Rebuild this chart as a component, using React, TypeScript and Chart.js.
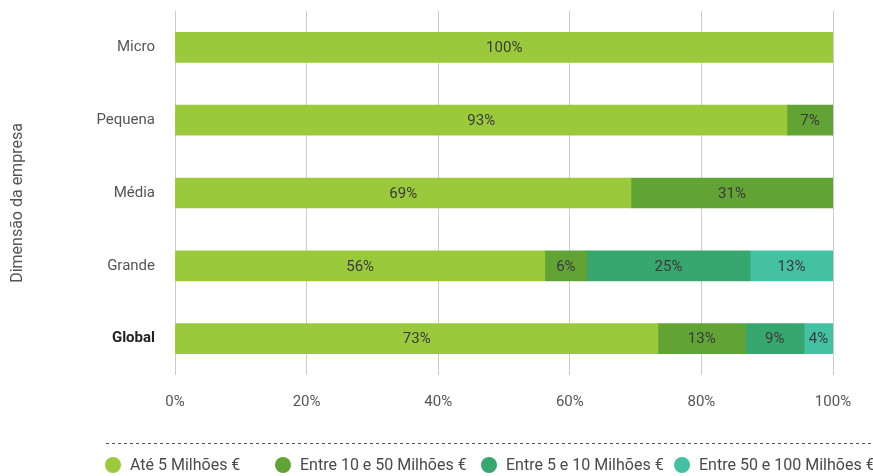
import React, { useEffect, useRef } from "react";
import { Chart, registerables } from "chart.js";

Chart.register(...registerables);

const categories = ["Micro", "Pequena", "Média", "Grande", "Global"];
const seriesLabels = [
  "Até 5 Milhões €",
  "Entre 10 e 50 Milhões €",
  "Entre 5 e 10 Milhões €",
  "Entre 50 e 100 Milhões €",
];
const ate5 = [100, 93, 69.3, 56.2, 73.4];
const entre10e50 = [0, 7, 30.7, 6.4, 13.3];
const entre5e10 = [0, 0, 0, 24.8, 8.9];
const entre50e100 = [0, 0, 0, 12.6, 4.4];
const xTicks = [0, 20, 40, 60, 80, 100];
const yTitle = "Dimensão da empresa";

const colors = ["#9ACA3C", "#62A336", "#37A66F", "#44C0A2"];
const FONT = "Roboto, 'DejaVu Sans', sans-serif";
const legendCircleX = [113, 283, 489, 682];

const barLabelPlugin = {
  id: "barLabels",
  afterDatasetsDraw(chart: any) {
    const ctx = chart.ctx;
    ctx.save();
    ctx.font = `15px ${FONT}`;
    ctx.fillStyle = "#3a3a3a";
    ctx.textAlign = "center";
    ctx.textBaseline = "middle";
    chart.data.datasets.forEach((ds: any, di: number) => {
      const meta = chart.getDatasetMeta(di);
      meta.data.forEach((bar: any, i: number) => {
        const v = ds.data[i];
        if (!v) return;
        const x0 = bar.base;
        const x1 = bar.x;
        ctx.fillText(Math.round(v) + "%", (x0 + x1) / 2, bar.y + 1);
      });
    });
    ctx.restore();
  },
};

const legendPlugin = {
  id: "customLegend",
  afterDraw(chart: any) {
    const ctx = chart.ctx;
    ctx.save();
    // y axis title
    ctx.font = `16px ${FONT}`;
    ctx.fillStyle = "#555";
    ctx.textAlign = "center";
    ctx.textBaseline = "middle";
    ctx.translate(18, 203);
    ctx.rotate(-Math.PI / 2);
    ctx.fillText(yTitle, 0, 0);
    ctx.setTransform(1, 0, 0, 1, 0, 0);
    // dashed separator
    ctx.strokeStyle = "#555";
    ctx.lineWidth = 1;
    ctx.setLineDash([3, 3]);
    ctx.beginPath();
    ctx.moveTo(106, 443.5);
    ctx.lineTo(873, 443.5);
    ctx.stroke();
    ctx.setLineDash([]);
    ctx.font = `16px ${FONT}`;
    ctx.textBaseline = "middle";
    ctx.textAlign = "left";
    chart.data.datasets.forEach((ds: any, i: number) => {
      const cx = legendCircleX[i];
      const cy = 465;
      ctx.fillStyle = ds.backgroundColor;
      ctx.beginPath();
      ctx.arc(cx, cy, 8, 0, Math.PI * 2);
      ctx.fill();
      ctx.fillStyle = "#4a4a4a";
      ctx.fillText(ds.label, cx + 17, cy + 1);
    });
    ctx.restore();
  },
};

export default function App() {
  const ref = useRef<HTMLCanvasElement>(null);
  useEffect(() => {
    if (!ref.current) return;
    const chart = new Chart(ref.current, {
      type: "bar",
      data: {
        labels: categories,
        datasets: [ate5, entre10e50, entre5e10, entre50e100].map((d, i) => ({
          label: seriesLabels[i],
          data: d,
          backgroundColor: colors[i],
          borderWidth: 0,
          barThickness: 30,
        })),
      },
      options: {
        indexAxis: "y",
        responsive: false,
        animation: false,
        layout: { padding: { top: 11, right: 40, left: 0, bottom: 0 } },
        plugins: { legend: { display: false }, tooltip: { enabled: false } },
        scales: {
          x: {
            stacked: true,
            min: 0,
            max: 100,
            afterBuildTicks: (scale: any) => {
              scale.ticks = xTicks.map((v) => ({ value: v }));
            },
            afterFit: (scale: any) => {
              scale.height = 101;
              scale.paddingLeft = 0;
              scale.paddingRight = 0;
            },
            grid: { color: "#cccccc", drawTicks: false },
            border: { display: false },
            ticks: {
              padding: 18,
              color: "#555",
              font: { family: FONT, size: 15 },
              callback: (v: any) => v + "%",
            },
          },
          y: {
            stacked: true,
            afterFit: (scale: any) => {
              scale.width = 175;
              scale.paddingTop = 0;
              scale.paddingBottom = 0;
            },
            grid: { display: false, drawTicks: false },
            border: { display: false },
            ticks: {
              padding: 20,
              color: (c: any) => (c.index === 4 ? "#222" : "#555"),
              font: (c: any) => ({
                family: FONT,
                size: 15,
                weight: c.index === 4 ? "bold" : "normal",
              }),
            },
          },
        },
      },
      plugins: [barLabelPlugin, legendPlugin],
    });
    return () => chart.destroy();
  }, []);
  return (
    <div style={{ position: "absolute", left: 0, top: 0, width: 873, height: 476 }}>
      <canvas ref={ref} width={873} height={476} />
    </div>
  );
}
